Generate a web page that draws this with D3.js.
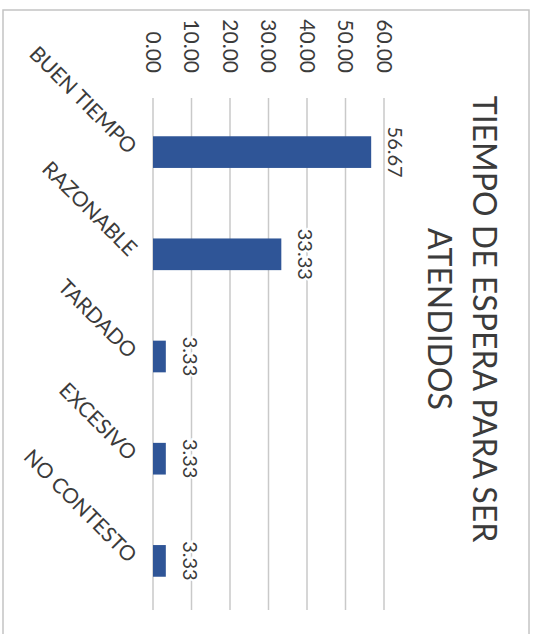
<!DOCTYPE html>
<html>
  <head>
    <meta charset="utf-8">
    <title>Tiempo de espera</title>
    <script src="https://d3js.org/d3.v7.min.js"></script>
    <style>
      body { margin: 0; background: #fff; }
      text { font-family: Lato, "Open Sans", sans-serif; fill: #3b3b3b; }
    </style>
  </head>
  <body>

  <script type="text/javascript">
    var categories = ['BUEN TIEMPO', 'RAZONABLE', 'TARDADO', 'EXCESIVO', 'NO CONTESTO'];
    var values = [56.67, 33.33, 3.33, 3.33, 3.33];
    var ticks = [0, 10, 20, 30, 40, 50, 60];
    var titleLines = ['TIEMPO DE ESPERA PARA SER', 'ATENDIDOS'];

    var W = 535, H = 634;
    var svg = d3.select('body')
               .append('svg')
               .attr('width', W)
               .attr('height', H);

    /* the chart is drawn upright, then turned a quarter turn clockwise */
    var g = svg.append('g')
               .attr('transform', 'translate(' + W + ',0) rotate(90)');

    // frame of the chart (upright coords: u along, v down)
    g.append('rect')
      .attr('x', 10).attr('y', 6)
      .attr('width', 700).attr('height', 526)
      .attr('fill', 'none')
      .attr('stroke', '#c4c4c4')
      .attr('stroke-width', 1.5);

    var x = d3.scaleBand()
              .domain(categories)
              .range([101, 612])
              .paddingInner(0.69)
              .paddingOuter(0.345);

    var y = d3.scaleLinear()
              .domain([0, 60])
              .range([382, 151]);

    // gridlines
    g.selectAll('line.grid')
      .data(ticks)
      .enter()
      .append('line')
      .attr('class', 'grid')
      .attr('x1', 98).attr('x2', 610)
      .attr('y1', function(d){ return y(d) })
      .attr('y2', function(d){ return y(d) })
      .attr('stroke', '#c9c9c9')
      .attr('stroke-width', 1.5);

    // value axis labels
    g.selectAll('text.tick')
      .data(ticks)
      .enter()
      .append('text')
      .attr('class', 'tick')
      .attr('x', 73)
      .attr('y', function(d){ return y(d) })
      .attr('dy', '0.35em')
      .attr('text-anchor', 'end')
      .style('font-size', '21px')
      .text(function(d){ return d3.format('.2f')(d) });

    // bars
    g.selectAll('rect.bar')
      .data(values)
      .enter()
      .append('rect')
      .attr('class', 'bar')
      .attr('x', function(d, i){ return x(categories[i]) })
      .attr('width', x.bandwidth())
      .attr('y', function(d){ return y(d) })
      .attr('height', function(d){ return y(0) - y(d) })
      .attr('fill', '#2f5597');

    // data labels
    g.selectAll('text.val')
      .data(values)
      .enter()
      .append('text')
      .attr('class', 'val')
      .attr('x', function(d, i){ return x(categories[i]) + x.bandwidth() / 2 })
      .attr('y', function(d){ return y(d) - 17 })
      .attr('text-anchor', 'middle')
      .style('font-size', '20px')
      .style('paint-order', 'stroke')
      .style('stroke', '#fff')
      .style('stroke-width', 4)
      .text(function(d){ return d3.format('.2f')(d) });

    // category labels, slanted
    g.selectAll('text.cat')
      .data(categories)
      .enter()
      .append('text')
      .attr('class', 'cat')
      .attr('transform', function(d){
        return 'translate(' + (x(d) + x.bandwidth() / 2 + 3) + ',407) rotate(-45)';
      })
      .attr('text-anchor', 'end')
      .style('font-size', '21px')
      .text(function(d){ return d });

    // title
    g.selectAll('text.title')
      .data(titleLines)
      .enter()
      .append('text')
      .attr('class', 'title')
      .attr('x', 319)
      .attr('y', function(d, i){ return 62 + i * 45 })
      .attr('text-anchor', 'middle')
      .style('font-size', '32px')
      .text(function(d){ return d });
  </script>
  </body>
</html>
